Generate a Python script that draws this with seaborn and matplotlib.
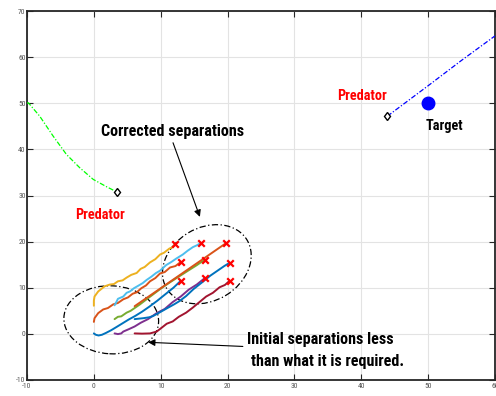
import numpy as np
import pandas as pd
import matplotlib
matplotlib.use("Agg")
import matplotlib.pyplot as plt
import seaborn as sns
from matplotlib.patches import Ellipse
from matplotlib.transforms import Affine2D

# ---------------- data ----------------
agents = ["a1", "a2", "a3", "a4", "a5", "a6", "a7", "a8", "a9"]
colors = ["#0072BD", "#D95319", "#EDB120", "#7E2F8E", "#77AC30",
          "#4DBEEE", "#A2142F", "#0072BD", "#D95319"]

a1_x = [0.0, 0.3, 0.7, 1.2, 1.8, 2.6, 3.4, 4.3, 5.2, 6.2, 7.2, 8.3, 9.5, 10.7, 11.9, 13.0]
a1_y = [0.1, -0.2, -0.35, -0.2, 0.2, 0.8, 1.5, 2.3, 3.1, 3.9, 4.8, 5.9, 7.2, 8.6, 10.0, 11.5]
a2_x = [0.0, 0.1, 0.65, 1.4, 2.1, 2.9, 3.6, 4.4, 5.1, 5.8, 6.4, 7.1, 7.8, 8.4, 9.2, 9.9, 10.6, 11.4, 12.2, 13.0]
a2_y = [2.6, 3.4, 4.5, 5.3, 5.6, 6.4, 6.7, 7.5, 7.9, 8.7, 9.0, 9.9, 10.5, 11.4, 12.1, 13.1, 13.4, 14.4, 14.7, 15.6]
a3_x = [0.0, 0.0, 0.1, 0.65, 1.6, 2.4, 3.0, 3.6, 4.3, 4.9, 5.6, 6.4, 7.0, 7.6, 8.4, 9.2, 9.9, 10.5, 11.3, 11.8, 12.2]
a3_y = [6.1, 7.2, 8.1, 9.2, 10.3, 10.7, 10.8, 11.4, 11.6, 12.2, 12.8, 13.2, 14.1, 14.5, 15.5, 16.2, 17.2, 17.6, 18.5, 18.8, 19.5]
a4_x = [3.1, 3.6, 4.1, 4.4, 5.2, 6.1, 7.0, 8.1, 9.4, 10.6, 11.8, 13.0, 14.2, 15.4, 16.6]
a4_y = [0.1, -0.05, 0.1, 0.5, 1.0, 1.6, 2.4, 3.2, 4.5, 5.4, 6.9, 8.1, 9.6, 10.7, 12.1]
a5_x = [3.1, 3.6, 4.1, 4.4, 4.9, 5.5, 6.1, 6.9, 7.8, 8.9, 10.0, 11.3, 12.8, 14.2, 15.4, 16.6]
a5_y = [3.2, 3.7, 3.8, 4.1, 4.6, 5.0, 5.6, 6.4, 7.4, 8.6, 9.8, 11.1, 12.5, 13.8, 14.9, 16.1]
a6_x = [3.1, 3.4, 3.6, 4.4, 4.9, 5.4, 6.0, 6.6, 7.3, 7.9, 8.6, 9.3, 9.9, 10.8, 11.6, 12.3, 13.3, 14.0, 14.8, 15.4, 16.0]
a6_y = [6.2, 7.0, 7.6, 8.1, 8.9, 9.2, 9.9, 10.4, 11.0, 11.7, 12.4, 13.2, 13.7, 14.9, 15.6, 16.3, 17.2, 18.0, 18.8, 19.2, 19.7]
a7_x = [6.1, 7.2, 8.4, 9.4, 10.2, 10.9, 11.8, 12.7, 13.8, 14.8, 15.8, 16.8, 17.8, 18.8, 19.6, 20.3]
a7_y = [0.1, 0.05, 0.1, 0.5, 1.4, 2.2, 2.7, 3.7, 4.6, 5.7, 6.9, 8.1, 8.9, 10.1, 10.6, 11.5]
a8_x = [6.1, 7.4, 8.3, 8.9, 9.9, 11.0, 12.0, 12.8, 13.8, 14.9, 16.3, 17.4, 18.5, 19.5, 20.3]
a8_y = [3.2, 3.4, 3.6, 3.9, 4.7, 5.6, 6.4, 7.1, 8.2, 9.7, 11.3, 12.6, 13.7, 14.7, 15.4]
a9_x = [6.1, 9.5, 13.0, 16.4, 19.7]
a9_y = [6.0, 9.4, 12.9, 16.3, 19.6]

pred1_x = [-10.0, -9.8, -8.1, -6.1, -4.1, -2.1, -0.1, 1.9, 3.4]
pred1_y = [50.0, 50.1, 47.2, 42.9, 38.9, 36.0, 33.5, 31.9, 30.8]
pred2_x = [43.9, 50.0, 55.0, 60.0]
pred2_y = [47.2, 53.8, 59.3, 64.6]
target_x = [50.0]
target_y = [50.0]

xs = [a1_x, a2_x, a3_x, a4_x, a5_x, a6_x, a7_x, a8_x, a9_x]
ys = [a1_y, a2_y, a3_y, a4_y, a5_y, a6_y, a7_y, a8_y, a9_y]

rows = []
for name, xx, yy in zip(agents, xs, ys):
    for i, (u, v) in enumerate(zip(xx, yy)):
        rows.append({"agent": name, "step": i, "x": u, "y": v})
df = pd.DataFrame(rows)
ends = pd.DataFrame({"x": [xx[-1] for xx in xs], "y": [yy[-1] for yy in ys]})

# ---------------- style ----------------
sns.set_theme(style="whitegrid")
FAM = ["Roboto Condensed", "Archivo Narrow", "Encode Sans Condensed", "DejaVu Sans"]
plt.rcParams["font.family"] = FAM
plt.rcParams["axes.unicode_minus"] = False

fig = plt.figure(figsize=(4.96, 3.96), dpi=100)
ax = fig.add_axes([27 / 496, 16 / 396, 468 / 496, 369 / 396])
ax.set_facecolor("white")

sns.lineplot(data=df, x="x", y="y", hue="agent", palette=colors, sort=False,
             estimator=None, lw=1.4, legend=False, ax=ax, zorder=3)
sns.scatterplot(data=ends, x="x", y="y", marker="x", color="red", s=22,
                linewidth=1.6, ax=ax, zorder=4)

ax.plot(pred1_x, pred1_y, color="#00FF00", lw=0.9, ls=(0, (4, 1.5, 1, 1.5)), zorder=3)
ax.plot(pred1_x[-1], pred1_y[-1], marker="d", ms=4.5, mfc="white", mec="black", mew=1, zorder=5)
ax.plot(pred2_x, pred2_y, color="#0000FF", lw=0.9, ls=(0, (4, 1.5, 1, 1.5)), zorder=3)
ax.plot(pred2_x[0], pred2_y[0], marker="d", ms=4.5, mfc="white", mec="black", mew=1, zorder=5)
ax.plot(target_x, target_y, marker="o", ms=9, color="#0000FF", ls="none", zorder=5)

# ellipses (defined in pixel-like units, then mapped to data)
sx, sy = 469 / 70, 369 / 80
e1 = Ellipse((0, 0), 95, 68, angle=-3, fill=False, ec="black", lw=0.9,
             ls=(0, (5, 2, 1, 2)),
             transform=Affine2D().scale(1 / sx, 1 / sy).translate(2.6, 3.05) + ax.transData)
e2 = Ellipse((0, 0), 94, 73, angle=31, fill=False, ec="black", lw=0.9,
             ls=(0, (5, 2, 1, 2)),
             transform=Affine2D().scale(1 / sx, 1 / sy).translate(16.9, 15.1) + ax.transData)
ax.add_patch(e1)
ax.add_patch(e2)

# arrows
ax.annotate("", xy=(16.0, 24.8), xytext=(11.7, 42.0),
            arrowprops=dict(arrowstyle="-|>", color="black", lw=0.8, mutation_scale=10))
ax.annotate("", xy=(7.7, -1.8), xytext=(22.7, -2.75),
            arrowprops=dict(arrowstyle="-|>", color="black", lw=0.8, mutation_scale=10))

# texts
tk = dict(fontweight="bold", family=FAM)
ax.text(11.7, 43.0, "Corrected separations", ha="center", va="baseline",
        fontsize=11.6, color="black", **tk)
ax.text(22.84, -2.17, "Initial separations less", ha="left", va="baseline",
        fontsize=11.6, color="black", **tk)
ax.text(23.5, -6.9, "than what it is required.", ha="left", va="baseline",
        fontsize=11.6, color="black", **tk)
ax.text(0.9, 24.9, "Predator", ha="center", va="baseline",
        fontsize=10.3, color="red", **tk)
ax.text(40.07, 50.6, "Predator", ha="center", va="baseline",
        fontsize=10.3, color="red", **tk)
ax.text(52.5, 44.1, "Target", ha="center", va="baseline",
        fontsize=10.3, color="black", **tk)

# axes
ax.set_xlim(-10, 60)
ax.set_ylim(-10, 70)
ax.set_xticks(range(-10, 61, 10))
ax.set_yticks(range(-10, 71, 10))
ax.set_xlabel("")
ax.set_ylabel("")
ax.grid(True, color="#E3E3E3", lw=0.8)
for s in ax.spines.values():
    s.set_visible(True)
    s.set_color("#262626")
    s.set_linewidth(1.3)
ax.tick_params(direction="in", length=4, width=0.8, color="#262626",
               labelsize=5.5, labelcolor="#555555", top=True, right=True,
               bottom=True, left=True, pad=2)
ax.tick_params(axis="y", pad=1)

fig.savefig("out.png", dpi=100)
